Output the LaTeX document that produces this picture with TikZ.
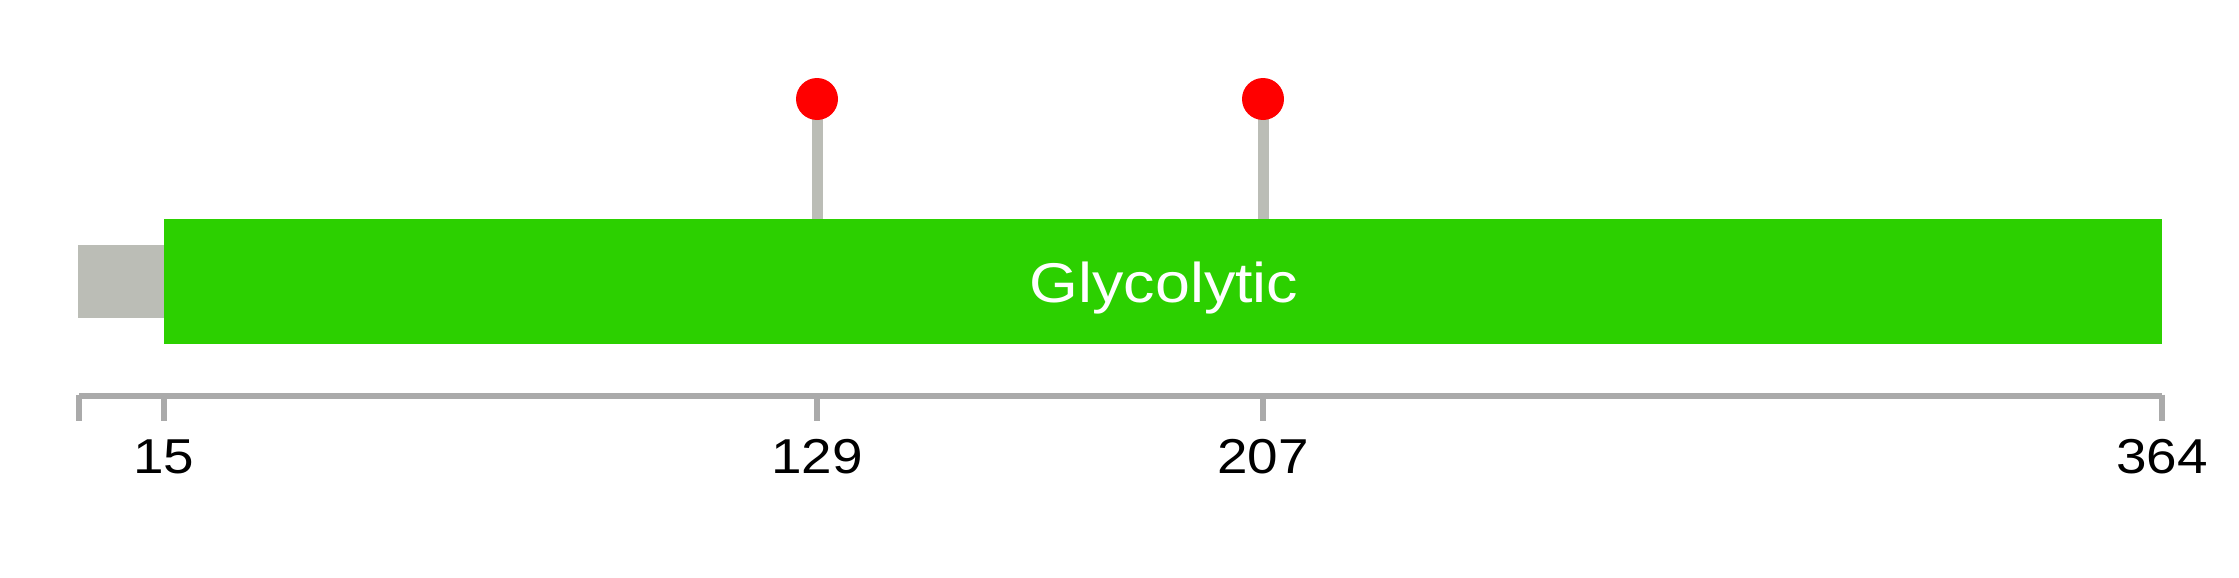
\documentclass[tikz,border=0pt]{standalone}
\usepackage{fontspec}
\setmainfont{Liberation Sans}
\definecolor{domgreen}{RGB}{44,208,0}
\definecolor{boxgray}{RGB}{187,189,182}
\definecolor{axisgray}{RGB}{170,170,170}
\definecolor{dotred}{RGB}{255,0,0}
\newcommand{\widetxt}[1]{\scalebox{1.12}[1]{#1}}
\begin{document}
\begin{tikzpicture}[x=0.5pt,y=-0.5pt,
  region/.style={draw=none,inner sep=0pt,outer sep=0pt,anchor=north west},
  stick/.style={draw=boxgray,line width=5.5pt},
  lolli/.style={circle,fill=dotred,draw=none,minimum size=21pt,inner sep=0pt},
  axisline/.style={draw=axisgray,line width=2.7pt},
  ticklab/.style={anchor=base,font=\fontsize{24.5pt}{28pt}\selectfont,text=black,inner sep=0pt}]
\useasboundingbox (0,0) rectangle (2239,578);
% gray background segment
\node[region,fill=boxgray,minimum width=43pt,minimum height=36.5pt] (graybox) at (78,245) {};
% domain
\node[region,fill=domgreen,minimum width=999pt,minimum height=62.5pt] (dom) at (164,219) {};
\node[anchor=base,text=white,font=\fontsize{28pt}{32pt}\selectfont,inner sep=0pt] (domlab) at (1164,302) {\widetxt{Glycolytic}};
% lollipops
\coordinate (s129) at (817,219);
\coordinate (s207) at (1263,219);
\coordinate (c129) at (817,99);
\coordinate (c207) at (1263,99);
\draw[stick] (s129) -- (c129);
\draw[stick] (s207) -- (c207);
\node[lolli] (p129) at (c129) {};
\node[lolli] (p207) at (c207) {};
% axis
\coordinate (aL) at (79,396);
\coordinate (aR) at (2162,396);
\coordinate (t15) at (164,396);
\coordinate (t129) at (817,396);
\coordinate (t207) at (1263,396);
\draw[axisline] (aL) -- (aR);
\foreach \c in {aL,t15,t129,t207,aR}{
  \draw[axisline] ([yshift=0.7pt]\c) -- ++(0,26);
}
\node[ticklab] (l15) at (164,473) {\widetxt{15}};
\node[ticklab] (l129) at (817,473) {\widetxt{129}};
\node[ticklab] (l207) at (1263,473) {\widetxt{207}};
\node[ticklab] (l364) at (2162,473) {\widetxt{364}};
\end{tikzpicture}
\end{document}
